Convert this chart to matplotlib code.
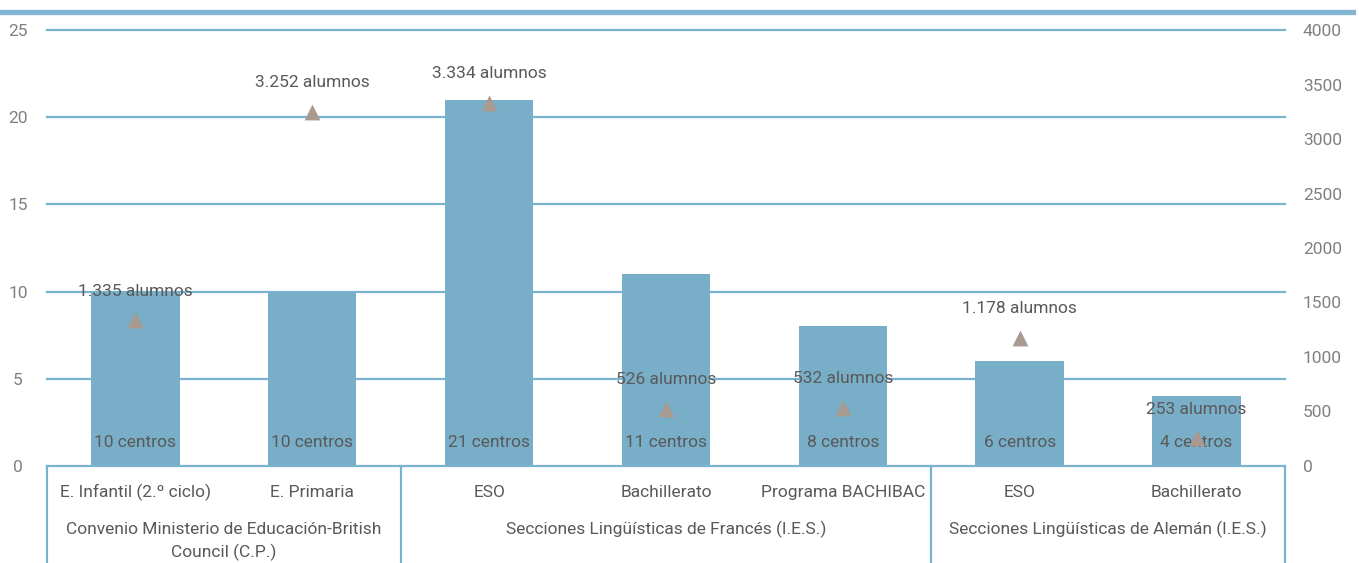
import matplotlib
matplotlib.use('Agg')
import matplotlib.pyplot as plt
from matplotlib.lines import Line2D
import matplotlib.transforms as mtransforms

plt.rcParams['font.family'] = ['Roboto', 'DejaVu Sans']

# data
categories = ['E. Infantil (2.º ciclo)', 'E. Primaria', 'ESO', 'Bachillerato',
              'Programa BACHIBAC', 'ESO', 'Bachillerato']
groups = ['Convenio Ministerio de Educación-British\nCouncil (C.P.)',
          'Secciones Lingüísticas de Francés (I.E.S.)',
          'Secciones Lingüísticas de Alemán (I.E.S.)']
group_sizes = [2, 3, 2]
centros = [10, 10, 21, 11, 8, 6, 4]
alumnos = [1335, 3252, 3334, 526, 532, 1178, 253]
alumnos_txt = ['1.335', '3.252', '3.334', '526', '532', '1.178', '253']

bar_color = '#78AEC8'
line_color = '#7AB3CF'
tri_color = '#A9998F'
txt_color = '#595959'
tick_color = '#808080'
fs = 12.5

fig = plt.figure(figsize=(13.59, 5.63), dpi=100)
ax = fig.add_axes([0.0346, 0.1723, 0.9109, 0.7744])
ax2 = ax.twinx()

x = list(range(len(categories)))
ax.bar(x, centros, width=0.5, color=bar_color, zorder=2)
ax.set_xlim(-0.5, len(categories) - 0.5)
ax.set_ylim(0, 25)
ax.set_yticks([0, 5, 10, 15, 20, 25])
for v in [5, 10, 15, 20, 25]:
    ax.axhline(v, color=line_color, lw=1.6, zorder=1, clip_on=False)
ax.axhline(0, color=line_color, lw=1.6, zorder=3, clip_on=False)

ax2.scatter(x, alumnos, marker='^', s=130, color=tri_color, zorder=4, linewidths=0)
ax2.set_ylim(0, 4000)
ax2.set_yticks(range(0, 4001, 500))

for a in (ax, ax2):
    for s in a.spines.values():
        s.set_visible(False)
    a.tick_params(length=0, labelsize=fs, labelcolor=tick_color)
ax2.tick_params(axis='y', pad=13)
for t in ax.get_yticklabels():
    t.set_horizontalalignment('center')
ax.tick_params(axis='y', pad=21)
ax.set_xticks([])

# labels
for i in x:
    ax.annotate(f'{centros[i]} centros', (i, 0), xytext=(0, 17), textcoords='offset points',
                ha='center', va='center', fontsize=fs, color=txt_color, zorder=5)
    ax2.annotate(f'{alumnos_txt[i]} alumnos', (i, alumnos[i]), xytext=(0, 21),
                 textcoords='offset points', ha='center', va='center',
                 fontsize=fs, color=txt_color, zorder=5)

# category axis
trans = mtransforms.blended_transform_factory(ax.transData, ax.transAxes)
for i, c in enumerate(categories):
    ax.text(i, -0.06, c, transform=trans, ha='center', va='center',
            fontsize=fs, color=txt_color)
start = -0.5
seps = [start]
for g, n in zip(groups, group_sizes):
    mid = start + n / 2
    for k, line in enumerate(g.split('\n')):
        ax.text(mid, -0.146 - 0.053 * k, line, transform=trans, ha='center', va='center',
                fontsize=fs, color=txt_color)
    start += n
    seps.append(start)
for s in seps:
    ax.add_line(Line2D([s, s], [0, -0.3], transform=trans, color=line_color,
                       lw=1.6, clip_on=False))

# top band
fig.add_artist(Line2D([0, 1353 / 1359], [0.9795, 0.9795], transform=fig.transFigure,
                      color='#85B5D5', lw=3.8))

fig.savefig('out.png', dpi=100)
